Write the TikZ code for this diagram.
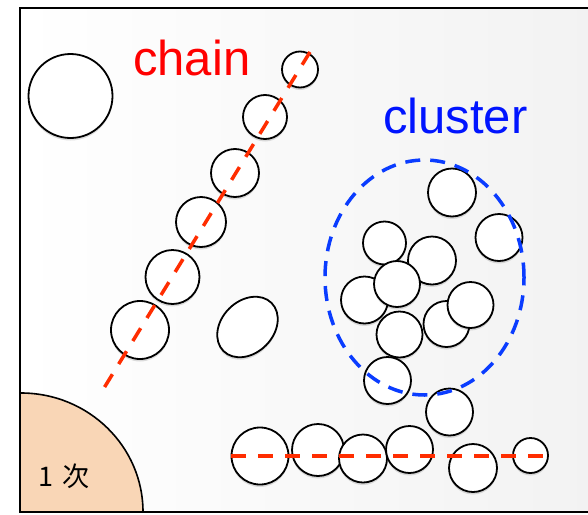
\documentclass[tikz,border=0pt]{standalone}
\usepackage{fontspec}
\setmainfont{Liberation Sans}
\newfontfamily\jpfont{Noto Sans CJK JP}
\usetikzlibrary{shapes.geometric,shadows}
\definecolor{peach}{RGB}{249,214,182}
\definecolor{dashred}{RGB}{255,45,0}
\definecolor{labelred}{RGB}{255,0,0}
\definecolor{labelblue}{RGB}{0,20,255}
\definecolor{dashblue}{RGB}{10,60,255}
\tikzset{
  ball/.style={circle, draw=black, line width=1.8pt, fill=white, inner sep=0pt,
    minimum size=#1,
    drop shadow={shadow xshift=0pt, shadow yshift=-2.5pt, opacity=0.13, fill=black}},
  blob/.style={ellipse, draw=black, line width=1.8pt, fill=white, inner sep=0pt,
    drop shadow={shadow xshift=0pt, shadow yshift=-2.5pt, opacity=0.13, fill=black}},
  axisline/.style={draw=dashred, line width=3.5pt, dash pattern=on 15pt off 12pt},
  groupring/.style={ellipse, draw=dashblue, line width=3.5pt, dash pattern=on 15pt off 10pt, inner sep=0pt},
  tag/.style={inner sep=0pt, anchor=base west, font=\fontsize{49}{55}\selectfont},
}
\begin{document}
\begin{tikzpicture}[x=1pt, y=-1pt]
  \useasboundingbox (0,0) rectangle (588,514);
  % panel background
  \shade[left color=white, right color=black!5] (20,8) rectangle (588,512);
  % quarter disc in the lower left corner
  \begin{scope}
    \clip (20,8) rectangle (588,512);
    \draw[fill=peach, line width=1.6pt] (21,512) ellipse[x radius=122pt, y radius=119pt];
  \end{scope}
  \node[inner sep=0pt, font=\jpfont\fontsize{27}{30}\selectfont] (order) at (64,476) {1\hspace{0.3em}次};
  % frame
  \draw[line width=2pt] (588,8) -- (20,8) -- (20,512) -- (588,512);

  % labels
  \node[tag, text=labelred] (chainlabel) at (133,75) {chain};
  \node[tag, text=labelblue] (clusterlabel) at (383,133) {cluster};

  % isolated particles
  \node[ball=84pt] (lone) at (70.5,96) {};
  \node[blob, minimum width=68pt, minimum height=52pt, rotate=45] (oval) at (247.5,327) {};

  % chain of particles
  \node[ball=36pt] (c1) at (300,69.5) {};
  \node[ball=44pt] (c2) at (265,117) {};
  \node[ball=48pt] (c3) at (235,173) {};
  \node[ball=50pt] (c4) at (201,222) {};
  \node[ball=54pt] (c5) at (172.5,277) {};
  \node[ball=58pt] (c6) at (140,330) {};
  \coordinate (chaintop) at (310,52);
  \coordinate (chainend) at (104,388);
  \draw[axisline] (chaintop) -- (chainend);

  % cluster of particles
  \node[ball=43pt] (k3) at (384.5,243) {};
  \node[ball=48pt] (k4) at (432,260.5) {};
  \node[ball=47pt] (k5) at (364.5,300) {};
  \node[ball=46pt] (k6) at (397,284) {};
  \node[ball=46pt] (k7) at (399.5,334.5) {};
  \node[ball=46pt] (k8) at (446.5,324) {};
  \node[ball=46pt] (k9) at (470.5,305) {};
  \node[ball=48pt] (k1) at (452,192.5) {};
  \node[ball=47pt] (k2) at (499,237.5) {};
  \node[ball=47pt] (k10) at (387.5,380.5) {};
  \node[ball=47pt] (k11) at (449.5,412) {};
  \node[groupring, minimum width=199pt, minimum height=235pt] (ring) at (424.5,277.5) {};

  % row of particles along the bottom
  \node[ball=57pt] (r1) at (260,456) {};
  \node[ball=52pt] (r2) at (318,450) {};
  \node[ball=48pt] (r3) at (363,458.5) {};
  \node[ball=47pt] (r4) at (409.5,449.5) {};
  \node[ball=48pt] (r5) at (473,468) {};
  \node[ball=35pt] (r6) at (530.5,455.5) {};
  \coordinate (rowstart) at (231,456);
  \coordinate (rowend) at (548,456);
  \draw[axisline] (rowstart) -- (rowend);
\end{tikzpicture}
\end{document}
